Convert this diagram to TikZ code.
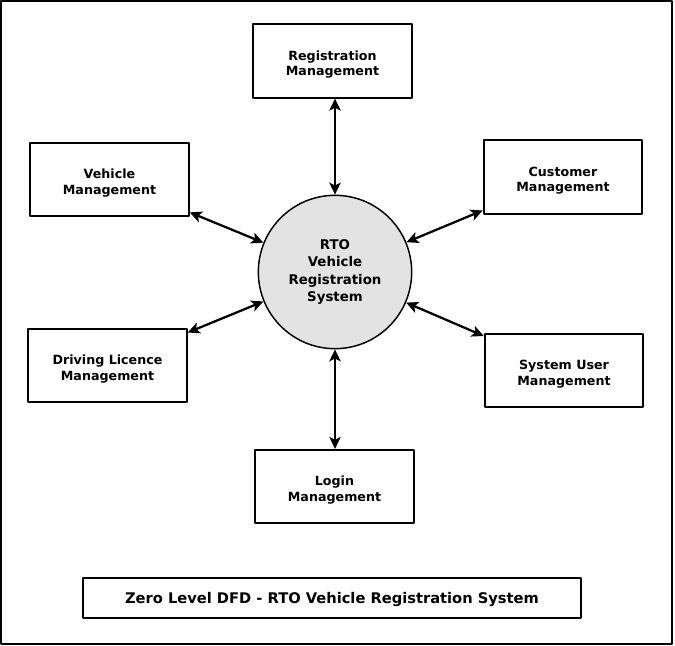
\documentclass[tikz,border=0pt]{standalone}
\usepackage{fontspec}
\setmainfont{DejaVu Sans}
\usetikzlibrary{arrows.meta}
\def\liftline{\rule{0pt}{12.5pt}}
\begin{document}
\begin{tikzpicture}[x=0.75pt, y=-0.75pt, line join=round, >={Stealth[length=9pt,width=8.5pt,inset=2.2pt]},
  font=\bfseries\fontsize{9.5}{11.5}\selectfont,
  entity/.style={draw, line width=1.4pt, minimum width=119pt, minimum height=55pt, inner sep=0pt, align=center},
  process/.style={circle, draw, line width=1.1pt, fill=black!11, minimum size=115pt, inner sep=0pt, align=center, font=\bfseries\fontsize{10}{12.8}\selectfont},
  flow/.style={<->, line width=1.7pt}]
\useasboundingbox (0,0) rectangle (675,646);
\draw[line width=1.5pt] (1,1) rectangle (672,644);
\node[process] (rto) at (335,272) {RTO\\Vehicle\\Registration\\System};
\node[entity] (reg) at (332.5,61) {\liftline Registration\\Management};
\node[entity] (veh) at (109.5,179.5) {\liftline Vehicle\\Management};
\node[entity] (cust) at (563,177) {\liftline Customer\\Management};
\node[entity] (dl) at (107.5,365.5) {\liftline Driving Licence\\Management};
\node[entity] (sys) at (564,370.5) {\liftline System User\\Management};
\node[entity] (login) at (334.5,486.5) {\liftline Login\\Management};
\node[draw, line width=1.4pt, minimum width=373pt, minimum height=30pt, font=\bfseries\fontsize{11}{13}\selectfont] (title) at (332,598) {\rule{0pt}{10pt}Zero Level DFD - RTO Vehicle Registration System};
\draw[flow] (reg.south -| rto.north) -- (rto.north);
\draw[flow] (veh) -- (rto);
\draw[flow] (cust) -- (rto);
\draw[flow] (dl) -- (rto);
\draw[flow] (sys) -- (rto);
\draw[flow] (login.north -| rto.south) -- (rto.south);
\end{tikzpicture}
\end{document}
